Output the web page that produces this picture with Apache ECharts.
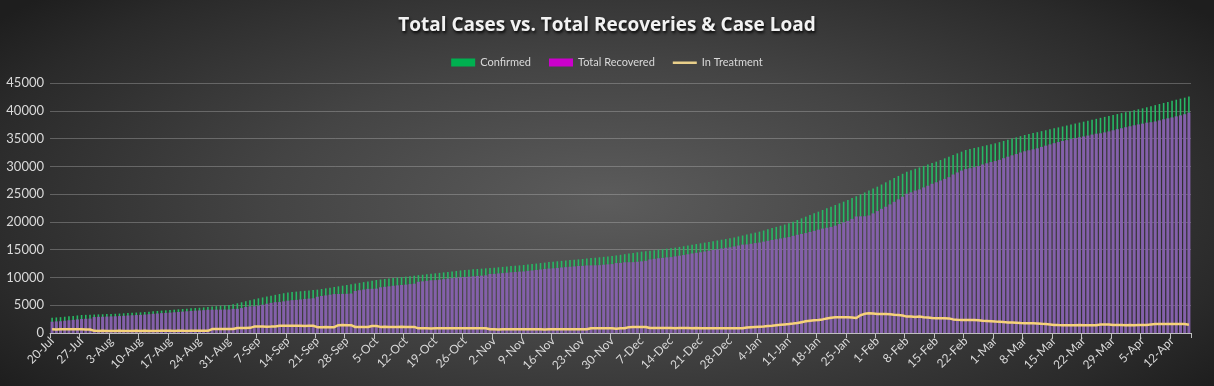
<!DOCTYPE html>
<html>
<head>
<meta charset="utf-8">
<script src="https://cdn.jsdelivr.net/npm/echarts@6/dist/echarts.min.js"></script>
<style>
html,body{margin:0;padding:0;width:1214px;height:386px;overflow:hidden;}
body{background:radial-gradient(ellipse 62% 80% at 50% 52%, #5c5c5c 0%, #444 45%, #2a2a2a 85%, #1e1e1e 100%);}
#chart{width:1214px;height:386px;}
</style>
</head>
<body>
<div id="chart"></div>
<script>
// Category labels: one per day, 20-Jul-2020 .. 16-Apr-2021
const startDate = [2020, 6, 20];
const dayCount = 271;
const monthNames = ['Jan','Feb','Mar','Apr','May','Jun','Jul','Aug','Sep','Oct','Nov','Dec'];
const categories = [];
for (let i = 0; i < dayCount; i++) {
  const d = new Date(startDate[0], startDate[1], startDate[2] + i);
  categories.push(d.getDate() + '-' + monthNames[d.getMonth()]);
}

const confirmed = [
  2750, 2800, 2850, 2930, 3000, 3080, 3160,
  3240, 3270, 3290, 3320, 3350, 3370, 3400,
  3420, 3460, 3500, 3540, 3590, 3640, 3680,
  3720, 3780, 3840, 3900, 3970, 4030, 4090,
  4140, 4200, 4260, 4320, 4380, 4440, 4500,
  4550, 4610, 4680, 4750, 4830, 4910, 4980,
  5040, 5180, 5350, 5530, 5720, 5900, 6070,
  6240, 6400, 6560, 6720, 6870, 7020, 7160,
  7300, 7380, 7450, 7520, 7590, 7660, 7730,
  7800, 7920, 8040, 8160, 8280, 8400, 8520,
  8640, 8770, 8900, 9030, 9160, 9290, 9410,
  9540, 9630, 9720, 9800, 9890, 9980, 10060,
  10140, 10230, 10310, 10400, 10490, 10570, 10660,
  10740, 10830, 10910, 11000, 11090, 11170, 11260,
  11340, 11400, 11460, 11520, 11580, 11640, 11700,
  11760, 11830, 11900, 11970, 12040, 12110, 12170,
  12240, 12330, 12410, 12500, 12590, 12670, 12760,
  12840, 12910, 12980, 13050, 13120, 13190, 13250,
  13320, 13400, 13480, 13550, 13630, 13710, 13790,
  13860, 13970, 14080, 14190, 14300, 14420, 14530,
  14640, 14720, 14810, 14900, 14990, 15070, 15150,
  15240, 15370, 15500, 15620, 15750, 15880, 16010,
  16140, 16270, 16400, 16530, 16660, 16790, 16910,
  17040, 17210, 17380, 17550, 17720, 17890, 18060,
  18240, 18450, 18660, 18880, 19100, 19310, 19520,
  19740, 20040, 20340, 20640, 20940, 21240, 21540,
  21840, 22140, 22440, 22740, 23040, 23340, 23640,
  23940, 24280, 24620, 24960, 25300, 25650, 26000,
  26340, 26730, 27120, 27500, 27890, 28270, 28660,
  29040, 29300, 29560, 29810, 30070, 30330, 30580,
  30840, 31140, 31440, 31740, 32040, 32340, 32640,
  32940, 33110, 33280, 33450, 33630, 33800, 33970,
  34140, 34350, 34570, 34780, 35000, 35210, 35430,
  35640, 35810, 35980, 36150, 36330, 36500, 36670,
  36840, 37010, 37180, 37350, 37530, 37700, 37870,
  38040, 38210, 38380, 38550, 38730, 38900, 39070,
  39240, 39410, 39580, 39750, 39930, 40100, 40270,
  40440, 40630, 40830, 41020, 41220, 41410, 41600,
  41800, 41990, 42180, 42360, 42550
];

const totalRecovered = [
  2030, 2090, 2120, 2210, 2290, 2360, 2440,
  2520, 2560, 2590, 2870, 2910, 2920, 2960,
  2980, 3010, 3050, 3090, 3150, 3190, 3230,
  3260, 3320, 3380, 3450, 3510, 3570, 3620,
  3670, 3730, 3780, 3850, 3910, 3960, 4020,
  4060, 4110, 4190, 4190, 4200, 4210, 4220,
  4230, 4340, 4350, 4490, 4690, 4800, 4820,
  4940, 5090, 5270, 5420, 5550, 5570, 5700,
  5820, 5910, 5960, 6040, 6130, 6190, 6250,
  6530, 6660, 6760, 6890, 7010, 7020, 7040,
  7060, 7110, 7560, 7700, 7820, 7940, 7950,
  7990, 8230, 8310, 8400, 8500, 8580, 8650,
  8700, 8800, 8870, 9220, 9300, 9390, 9490,
  9520, 9600, 9690, 9790, 9870, 9950, 10030,
  10080, 10140, 10200, 10270, 10320, 10370, 10620,
  10640, 10720, 10780, 10850, 10930, 10990, 11050,
  11080, 11180, 11250, 11340, 11430, 11520, 11600,
  11640, 11710, 11790, 11850, 11920, 11990, 12060,
  12080, 12160, 12170, 12180, 12210, 12290, 12360,
  12400, 12590, 12610, 12730, 12740, 12750, 12820,
  12900, 12990, 13250, 13350, 13450, 13520, 13610,
  13660, 13800, 13920, 14030, 14170, 14310, 14430,
  14530, 14670, 14810, 14950, 15070, 15210, 15330,
  15420, 15590, 15750, 15910, 15940, 16060, 16180,
  16280, 16450, 16590, 16740, 16880, 17010, 17150,
  17260, 17480, 17680, 17830, 17980, 18180, 18380,
  18600, 18790, 18940, 19090, 19320, 19610, 19920,
  20180, 20540, 20980, 21000, 21020, 21160, 21530,
  21940, 22350, 22730, 23140, 23610, 24050, 24530,
  25070, 25320, 25640, 25840, 26200, 26510, 26860,
  27130, 27440, 27740, 28050, 28530, 28900, 29230,
  29500, 29670, 29850, 30050, 30330, 30550, 30770,
  30950, 31170, 31470, 31740, 31980, 32210, 32490,
  32710, 32890, 33060, 33240, 33500, 33720, 33940,
  34170, 34370, 34560, 34720, 34910, 35080, 35230,
  35380, 35540, 35720, 35880, 35950, 36110, 36290,
  36490, 36690, 36860, 37040, 37210, 37390, 37550,
  37680, 37860, 37940, 38080, 38270, 38470, 38640,
  38800, 39000, 39180, 39380, 39670
];

const inTreatment = [
  660, 650, 670, 660, 655, 665, 660,
  660, 650, 640, 390, 380, 385, 380,
  375, 380, 385, 380, 375, 380, 385,
  380, 385, 380, 375, 380, 385, 390,
  385, 380, 390, 385, 380, 390, 395,
  390, 400, 395, 700, 710, 705, 720,
  730, 720, 900, 920, 910, 930, 1150,
  1150, 1160, 1140, 1150, 1170, 1300, 1310,
  1300, 1290, 1310, 1300, 1280, 1290, 1300,
  1050, 1040, 1060, 1050, 1050, 1400, 1420,
  1410, 1400, 1080, 1070, 1080, 1090, 1250,
  1250, 1100, 1110, 1100, 1090, 1100, 1110,
  1100, 1090, 1100, 840, 850, 840, 830,
  840, 850, 840, 835, 845, 840, 850,
  840, 845, 840, 835, 840, 850, 660,
  660, 650, 665, 660, 655, 660, 665,
  660, 655, 660, 665, 660, 650, 660,
  665, 660, 655, 660, 665, 660, 655,
  660, 665, 840, 850, 845, 840, 850,
  840, 760, 850, 845, 1050, 1080, 1090,
  1080, 1070, 900, 890, 880, 890, 880,
  880, 870, 880, 890, 880, 870, 880,
  870, 860, 850, 840, 850, 840, 845,
  840, 845, 850, 860, 1000, 1050, 1100,
  1140, 1180, 1250, 1320, 1400, 1480, 1550,
  1620, 1700, 1800, 1950, 2100, 2200, 2300,
  2340, 2450, 2600, 2750, 2820, 2830, 2820,
  2820, 2800, 2700, 3200, 3450, 3550, 3530,
  3420, 3400, 3410, 3380, 3300, 3240, 3150,
  2950, 2960, 2900, 2950, 2850, 2800, 2700,
  2650, 2640, 2640, 2630, 2450, 2380, 2350,
  2340, 2340, 2330, 2300, 2200, 2150, 2100,
  2050, 2040, 1960, 1900, 1880, 1860, 1800,
  1750, 1740, 1740, 1730, 1650, 1600, 1550,
  1450, 1420, 1400, 1410, 1400, 1400, 1420,
  1400, 1410, 1400, 1410, 1520, 1530, 1520,
  1450, 1420, 1420, 1410, 1420, 1410, 1420,
  1420, 1430, 1550, 1600, 1610, 1600, 1620,
  1620, 1610, 1620, 1600, 1500
];

const seriesNames = ['Confirmed', 'Total Recovered', 'In Treatment'];
const yTicks = { min: 0, max: 45000, interval: 5000 };

const chart = echarts.init(document.getElementById('chart'), null, { renderer: 'canvas' });
const fontFam = 'Lato, "Open Sans", sans-serif';
const lineIcon = 'path://M0,0 L0.01,0 L0,0.01 Z M0,3 L24,3 L24,5.5 L0,5.5 Z M24,8 L23.99,8 L24,7.99 Z';
chart.setOption({
  backgroundColor: 'transparent',
  animation: false,
  title: {
    text: 'Total Cases vs. Total Recoveries & Case Load',
    left: 'center',
    top: 11,
    textStyle: {
      color: '#f2f2f2', fontSize: 19, fontWeight: 'bold', fontFamily: '"Open Sans", Lato, sans-serif',
      textShadowColor: 'rgba(0,0,0,0.9)', textShadowBlur: 3, textShadowOffsetX: 1, textShadowOffsetY: 2
    }
  },
  legend: {
    top: 52,
    left: 'center',
    itemWidth: 24,
    itemHeight: 8,
    itemGap: 18,
    textStyle: { color: '#d9d9d9', fontSize: 11, fontFamily: fontFam },
    data: [
      { name: seriesNames[0], icon: 'rect', itemStyle: { color: '#00b050' } },
      { name: seriesNames[1], icon: 'rect', itemStyle: { color: '#cc00cc' } },
      { name: seriesNames[2], icon: lineIcon, itemStyle: { color: '#e9cf8a' } }
    ]
  },
  grid: { left: 50, right: 23, top: 83, bottom: 53, containLabel: false },
  xAxis: [
    {
      type: 'category',
      data: categories,
      boundaryGap: true,
      axisLine: { lineStyle: { color: '#bfbfbf', width: 1 } },
      axisTick: { show: true, interval: 6, length: 5, lineStyle: { color: '#bfbfbf' } },
      axisLabel: { interval: 6, rotate: 45, color: '#d9d9d9', fontSize: 12, fontFamily: fontFam, margin: 6 },
      splitLine: { show: false }
    },
    {
      type: 'category',
      data: categories,
      boundaryGap: true,
      position: 'bottom',
      show: false
    }
  ],
  yAxis: {
    type: 'value',
    min: yTicks.min, max: yTicks.max, interval: yTicks.interval,
    axisLine: { show: false },
    axisTick: { show: false },
    axisLabel: { color: '#d9d9d9', fontSize: 13, fontFamily: fontFam, margin: 6, formatter: function (v) { return String(v); } },
    splitLine: { lineStyle: { color: 'rgba(200,200,200,0.33)', width: 1 } }
  },
  series: [
    {
      name: seriesNames[0], type: 'bar', data: confirmed, xAxisIndex: 0,
      barWidth: '38%',
      itemStyle: { color: '#27b865' }
    },
    {
      name: seriesNames[1], type: 'bar', data: totalRecovered, xAxisIndex: 1,
      barWidth: '72%',
      itemStyle: { color: '#8460aa' }
    },
    {
      name: seriesNames[2], type: 'line', data: inTreatment, xAxisIndex: 0,
      symbol: 'none', smooth: false, z: 5,
      lineStyle: { color: '#f6d27a', width: 2.5 },
      itemStyle: { color: '#f6d27a' }
    }
  ]
});
</script>
</body>
</html>
